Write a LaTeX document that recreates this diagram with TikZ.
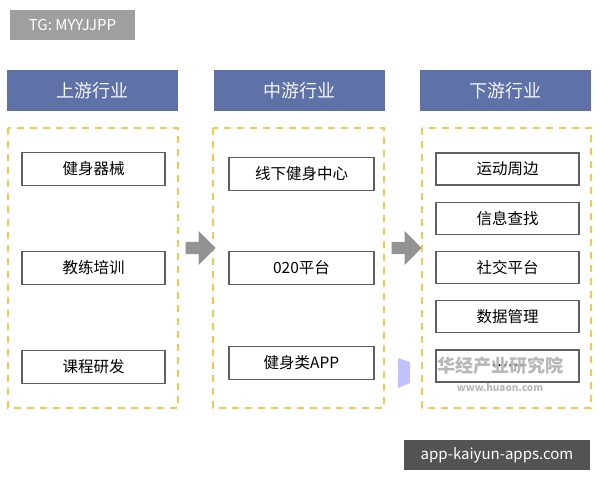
\documentclass[tikz,border=0pt]{standalone}
\usepackage{fontspec}
\setmainfont{Noto Sans CJK SC}
\usetikzlibrary{shapes.arrows}
\definecolor{headblue}{HTML}{5E72A8}
\definecolor{dashyellow}{HTML}{F2C94C}
\definecolor{boxgray}{HTML}{606060}
\tikzset{
  headbox/.style={fill=headblue, draw=none, minimum width=171pt, minimum height=41pt, text=white!92!headblue, font=\fontsize{18}{20}\selectfont},
  groupbox/.style={draw=dashyellow, line width=1.6pt, dash pattern=on 7pt off 6pt},
  itembox/.style={draw=boxgray, fill=white, line width=1.3pt, minimum width=143pt, minimum height=33pt, font=\fontsize{15.5}{18}\selectfont},
  flowarrow/.style={single arrow, fill=gray!85, draw=none, minimum height=30pt, minimum width=34pt, single arrow head extend=4pt, inner sep=2pt},
  markbox/.style={fill=#1, text=white, font=\fontsize{15}{17}\selectfont, inner xsep=6pt}
}
\begin{document}
\begin{tikzpicture}[x=1pt,y=-1pt]
 \useasboundingbox (0,0) rectangle (600,480);

 \node[markbox=gray!75, minimum width=125pt, minimum height=30pt] (tg) at (72.5,25) {TG: MYYJJPP};

 % column headers
 \node[headbox] (up)   at (92.5,90.5)  {上游行业};
 \node[headbox] (mid)  at (299.5,90.5) {中游行业};
 \node[headbox] (down) at (505.5,90.5) {下游行业};

 % dashed groups
 \draw[groupbox] (8,128) rectangle (178,408);
 \draw[groupbox] (213,128) rectangle (384,408);
 \draw[groupbox] (422,128) rectangle (591,408);

 % upstream
 \node[itembox] (u1) at (93.5,169) {健身器械};
 \node[itembox] (u2) at (93.5,268) {教练培训};
 \node[itembox] (u3) at (93.5,367) {课程研发};

 % midstream
 \node[itembox, minimum width=145pt] (m1) at (301.5,174) {线下健身中心};
 \node[itembox, minimum width=145pt] (m2) at (301.5,268) {020平台};
 \node[itembox, minimum width=145pt] (m3) at (301.5,363) {健身类APP};

 % downstream
 \foreach \t [count=\i] in {运动周边,信息查找,社交平台,数据管理,……}
   \node[itembox, minimum height=32pt] (d\i) at (507.5,{169+49.25*(\i-1)}) {\t};

 % flow arrows
 \node[flowarrow] (a1) at (197.5,248) {};
 \node[flowarrow] (a2) at (403.5,248) {};

 % watermark
 \fill[blue!35, opacity=0.7] (398,358) -- (410,362) -- (410,383) -- (398,388) -- cycle;
 \node[text=gray!70, opacity=0.8, font=\fontsize{18}{20}\selectfont\bfseries] (wm) at (500,366) {华经产业研究院};
 \node[text=gray!70, opacity=0.8, font=\fontsize{10}{11}\selectfont\bfseries] (wmurl) at (500,388) {www.huaon.com};

 \node[markbox=gray!65!black, minimum width=186pt, minimum height=30pt] (app) at (497,455) {app-kaiyun-apps.com};
\end{tikzpicture}
\end{document}
